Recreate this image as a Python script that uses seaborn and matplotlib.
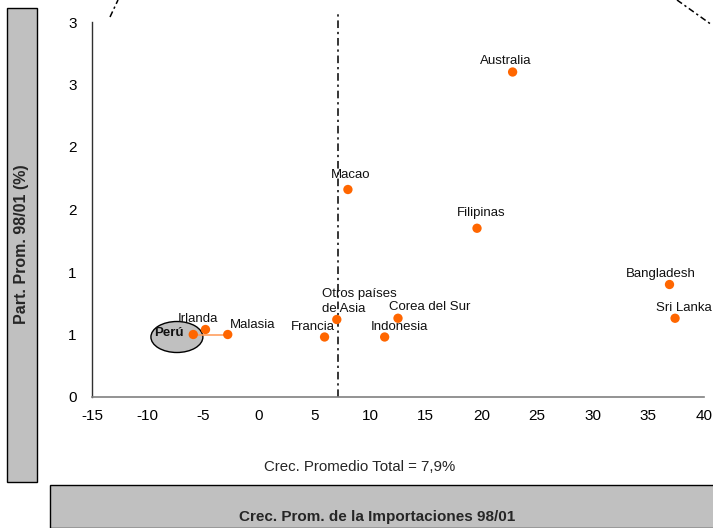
import matplotlib
matplotlib.use("Agg")
import matplotlib.pyplot as plt
import seaborn as sns
import pandas as pd
from matplotlib.patches import Ellipse, Rectangle
from matplotlib.lines import Line2D

# ---- data ----
countries = ["Australia", "Macao", "Filipinas", "Bangladesh", "Sri Lanka",
             "Otros países\nde Asia", "Corea del Sur", "Indonesia", "Francia",
             "Malasia", "Irlanda", "Perú"]
growth = [22.8, 8.0, 19.6, 36.9, 37.4, 7.0, 12.5, 11.3, 5.9, -2.8, -4.8, -5.9]
share = [2.60, 1.66, 1.35, 0.90, 0.63, 0.62, 0.63, 0.48, 0.48, 0.50, 0.54, 0.50]
avg_growth_line = 7.1
x_ticks = [-15, -10, -5, 0, 5, 10, 15, 20, 25, 30, 35, 40]
y_ticks = [0, 0.5, 1.0, 1.5, 2.0, 2.5, 3.0]
y_tick_labels = ["0", "1", "1", "2", "2", "3", "3"]

# label offsets in pixels (dx, dy) and alignment
label_style = {
    "Australia": (-7, 11, "center"),
    "Macao": (3, 14, "center"),
    "Filipinas": (4, 15, "center"),
    "Bangladesh": (-9, 11, "center"),
    "Sri Lanka": (9, 10, "center"),
    "Otros países\nde Asia": (-15, 18, "left"),
    "Corea del Sur": (-9, 11, "left"),
    "Indonesia": (15, 10, "center"),
    "Francia": (-12, 10, "center"),
    "Malasia": (25, 10, "center"),
    "Irlanda": (-8, 11, "center"),
    "Perú": (-24, 2, "center"),
}

df = pd.DataFrame({"pais": countries, "crec": growth, "part": share})

sns.set_theme(style="white")
plt.rcParams["font.family"] = ["Liberation Sans", "DejaVu Sans"]

W, H = 713, 528
fig = plt.figure(figsize=(W / 100, H / 100), dpi=100)
ax = fig.add_axes([92 / W, 1 - 397 / H, 612 / W, 375 / H])

orange = "#ff6600"

# Peru ellipse highlight
ax.add_patch(Ellipse((-7.37, 0.48), 4.67, 0.248, facecolor="#c0c0c0",
                     edgecolor="black", lw=1.0, zorder=2, clip_on=False))
# connector Peru - Malasia
peru = df[df.pais == "Perú"].iloc[0]
mal = df[df.pais == "Malasia"].iloc[0]
ax.plot([peru.crec, mal.crec], [peru.part, mal.part], color="#ffa060", lw=1.2, zorder=2.5)

sns.scatterplot(data=df, x="crec", y="part", ax=ax, color=orange, s=45,
                edgecolor="none", zorder=3, clip_on=False)

for c, xv, yv in zip(countries, growth, share):
    dx, dy, ha = label_style[c]
    ax.annotate(c, (xv, yv), xytext=(dx, dy), textcoords="offset pixels",
                ha=ha, va="center", fontsize=9.5, color="#111111",
                fontweight="bold" if c == "Perú" else "normal",
                linespacing=1.3, zorder=4, annotation_clip=False)

# average growth line
ax.plot([avg_growth_line, avg_growth_line], [0, 3.08], color="black", lw=1.1,
        linestyle=(0, (5, 2.5, 1.5, 2.5)), clip_on=False, zorder=1)

ax.set_xlim(-15, 40)
ax.set_ylim(0, 3)
ax.set_xticks(x_ticks)
ax.set_xticklabels([str(t) for t in x_ticks])
ax.set_yticks(y_ticks)
ax.set_yticklabels(y_tick_labels)
ax.tick_params(axis="both", length=0, labelsize=11, colors="black")
ax.tick_params(axis="y", pad=11)
ax.tick_params(axis="x", pad=9)
ax.set_xlabel("")
ax.set_ylabel("")
for s in ["top", "right"]:
    ax.spines[s].set_visible(False)
ax.spines["left"].set_color("#303030")
ax.spines["bottom"].set_color("#808080")
ax.spines["left"].set_linewidth(1.0)
ax.spines["bottom"].set_linewidth(1.2)
ax.set_facecolor("white")

# text under axis
fig.text(360 / W, 1 - 467 / H, "Crec. Promedio Total = 7,9%", ha="center",
         va="center", fontsize=10.8)

# left gray box
fig.add_artist(Rectangle((7 / W, 1 - 482 / H), 30 / W, 474 / H,
                         transform=fig.transFigure, facecolor="#c0c0c0",
                         edgecolor="black", lw=1.0))
fig.text(22 / W, 1 - 244 / H, "Part. Prom. 98/01 (%)", rotation=90,
         ha="center", va="center", fontsize=11.5, fontweight="bold")

# bottom gray box
fig.add_artist(Rectangle((50 / W, 0), 670 / W, 43 / H,
                         transform=fig.transFigure, facecolor="#c0c0c0",
                         edgecolor="black", lw=1.0, clip_on=False))
fig.text(377 / W, 1 - 517 / H, "Crec. Prom. de la Importaciones 98/01",
         ha="center", va="center", fontsize=11, fontweight="bold")

# dashed curve fragments in corners
fig.add_artist(Line2D([110 / W, 118 / W], [1 - 17 / H, 1.0], transform=fig.transFigure,
                      color="black", lw=1.1, linestyle=(0, (4, 2, 1.5, 2))))
fig.add_artist(Line2D([677 / W, 712 / W], [1.0, 1 - 25 / H], transform=fig.transFigure,
                      color="black", lw=1.1, linestyle=(0, (4, 2, 1.5, 2))))

fig.savefig("out.png", dpi=100, facecolor="white")
